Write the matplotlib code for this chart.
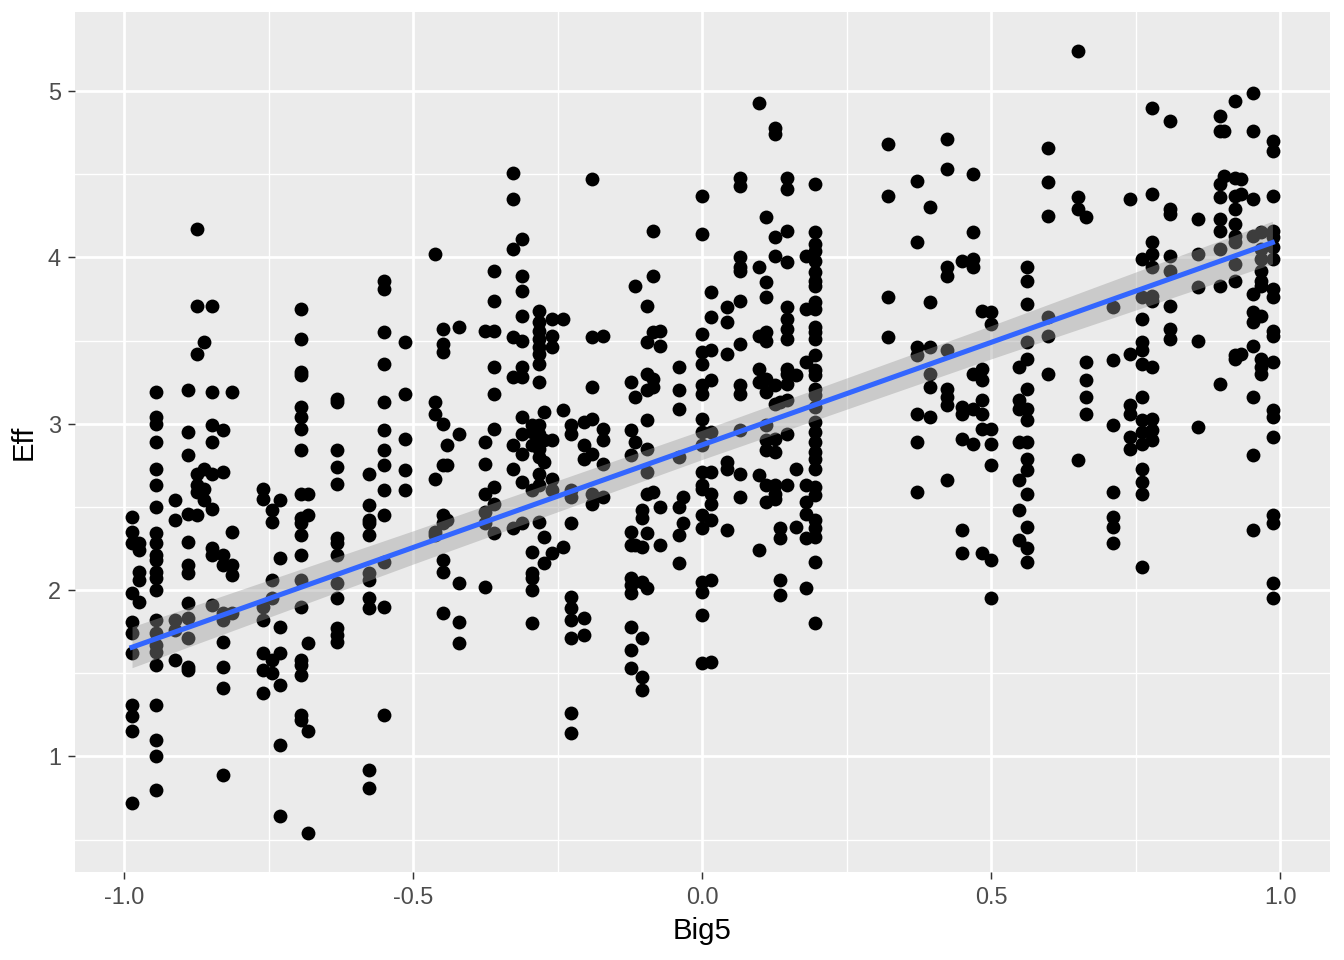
import numpy as np
import matplotlib
matplotlib.use('Agg')
import matplotlib.pyplot as plt
from matplotlib.ticker import MultipleLocator, FormatStrFormatter

plt.rcParams['font.family'] = ['Liberation Sans', 'DejaVu Sans']
plt.rcParams['axes.unicode_minus'] = False

# Big5 value of each column of points, and the Eff values in that column
col_x = [-0.986, -0.974, -0.944, -0.911, -0.889, -0.874, -0.861, -0.848, -0.828, -0.813,
         -0.760, -0.744, -0.731, -0.693, -0.681,
         -0.632, -0.577, -0.551, -0.514, -0.462, -0.448, -0.441, -0.421, -0.375, -0.360,
         -0.327, -0.311, -0.295, -0.283, -0.274, -0.260, -0.240, -0.227, -0.205, -0.191,
         -0.171, -0.123, -0.117, -0.105, -0.096, -0.085, -0.073, -0.040, -0.034,
         0.000, 0.015, 0.043, 0.065, 0.098, 0.110, 0.125, 0.134, 0.147, 0.162, 0.179, 0.195,
         0.321, 0.372, 0.394, 0.424, 0.449, 0.469, 0.484, 0.500, 0.548, 0.562, 0.598, 0.649,
         0.663, 0.711, 0.740, 0.760, 0.778, 0.809, 0.858, 0.896, 0.903, 0.922, 0.932, 0.953,
         0.967, 0.987]
col_y = [
    [2.44, 2.35, 2.28, 1.98, 1.81, 1.74, 1.62, 1.31, 1.24, 1.15, 0.72],
    [2.28, 2.24, 2.11, 2.06, 1.93],
    [3.19, 3.04, 3.00, 2.89, 2.73, 2.63, 2.50, 2.34, 2.28, 2.21, 2.18, 2.11, 2.07, 2.00,
     1.82, 1.74, 1.67, 1.63, 1.55, 1.31, 1.10, 1.00, 0.80],
    [2.54, 2.42, 1.82, 1.76, 1.58],
    [3.20, 2.95, 2.81, 2.46, 2.29, 2.15, 2.10, 1.92, 1.83, 1.71, 1.54, 1.52],
    [4.17, 3.71, 3.42, 2.70, 2.63, 2.59, 2.45],
    [3.49, 2.73, 2.61, 2.54],
    [3.71, 3.19, 2.99, 2.89, 2.70, 2.49, 2.25, 2.21, 1.91],
    [2.96, 2.71, 2.21, 2.15, 1.86, 1.82, 1.69, 1.54, 1.41, 0.89],
    [3.19, 2.35, 2.15, 2.09, 1.86],
    [2.61, 2.55, 1.90, 1.82, 1.62, 1.52, 1.38],
    [2.48, 2.41, 2.06, 1.95, 1.58, 1.50],
    [2.54, 2.19, 1.78, 1.62, 1.43, 1.07, 0.64],
    [3.69, 3.51, 3.31, 3.29, 3.10, 3.04, 2.97, 2.84, 2.58, 2.43, 2.40, 2.33, 2.21, 2.06,
     1.90, 1.58, 1.55, 1.49, 1.25, 1.22],
    [2.58, 2.45, 1.68, 1.15, 0.54],
    [3.15, 3.13, 2.84, 2.74, 2.64, 2.31, 2.28, 2.21, 2.04, 1.95, 1.77, 1.73, 1.69],
    [2.70, 2.51, 2.42, 2.40, 2.33, 2.10, 2.06, 1.95, 1.89, 0.92, 0.81],
    [3.86, 3.81, 3.55, 3.36, 3.13, 2.96, 2.84, 2.75, 2.60, 2.45, 2.17, 1.90, 1.25],
    [3.49, 3.18, 2.91, 2.72, 2.60],
    [4.02, 3.13, 3.06, 2.67, 2.35, 2.33],
    [3.57, 3.48, 3.43, 3.00, 2.75, 2.45, 2.40, 2.18, 2.11, 1.86],
    [2.87, 2.75, 2.42],
    [3.58, 2.94, 2.04, 1.81, 1.68],
    [3.56, 2.89, 2.76, 2.58, 2.47, 2.40, 2.02],
    [3.92, 3.74, 3.56, 3.34, 3.18, 2.97, 2.62, 2.52, 2.34],
    [4.51, 4.35, 4.05, 3.52, 3.28, 2.87, 2.73, 2.37],
    [4.11, 3.89, 3.80, 3.65, 3.50, 3.34, 3.28, 3.04, 2.94, 2.82, 2.65, 2.40],
    [2.99, 2.95, 2.87, 2.60, 2.23, 2.10, 2.07, 2.00, 1.80],
    [3.68, 3.61, 3.56, 3.51, 3.46, 3.42, 3.36, 3.25, 2.99, 2.94, 2.90, 2.85, 2.80, 2.70,
     2.63, 2.41],
    [3.07, 2.90, 2.77, 2.32, 2.16],
    [3.63, 3.53, 3.46, 2.90, 2.67, 2.60, 2.22],
    [3.63, 3.08, 2.26],
    [2.99, 2.94, 2.60, 2.56, 2.40, 1.96, 1.89, 1.82, 1.71, 1.26, 1.14],
    [3.01, 2.87, 2.79, 1.83, 1.73],
    [4.47, 3.52, 3.22, 3.03, 2.82, 2.58, 2.52],
    [3.53, 2.97, 2.90, 2.76, 2.56],
    [3.25, 2.96, 2.81, 2.35, 2.27, 2.07, 2.03, 1.98, 1.78, 1.64, 1.53],
    [3.83, 3.16, 2.89, 2.27],
    [2.48, 2.43, 2.26, 2.05, 1.71, 1.48, 1.40],
    [3.71, 3.49, 3.30, 3.20, 3.02, 2.85, 2.71, 2.58, 2.34, 2.01],
    [4.16, 3.89, 3.55, 3.27, 3.22, 2.59],
    [3.56, 3.47, 2.50, 2.27],
    [3.34, 3.20, 3.09, 2.80, 2.50, 2.33, 2.16],
    [2.56, 2.40],
    [4.37, 4.14, 3.54, 3.43, 3.36, 3.23, 3.18, 3.03, 2.95, 2.87, 2.71, 2.63, 2.61, 2.45,
     2.37, 2.05, 1.99, 1.85, 1.56],
    [3.79, 3.64, 3.44, 3.26, 2.95, 2.71, 2.58, 2.52, 2.42, 2.06, 1.57],
    [3.70, 3.61, 3.42, 2.77, 2.73, 2.36],
    [4.48, 4.43, 4.00, 3.94, 3.92, 3.74, 3.48, 3.23, 3.18, 2.96, 2.70, 2.56],
    [4.93, 3.94, 3.53, 3.33, 3.25, 2.69, 2.24],
    [4.24, 3.85, 3.76, 3.55, 3.50, 3.27, 3.19, 2.99, 2.90, 2.84, 2.63, 2.53],
    [4.78, 4.74, 4.12, 4.01, 3.23, 3.12, 2.91, 2.83, 2.63, 2.58, 2.55],
    [3.13, 2.37, 2.31, 2.06, 1.97],
    [4.48, 4.41, 4.16, 3.97, 3.70, 3.63, 3.57, 3.51, 3.33, 3.30, 3.24, 3.14, 2.94, 2.63],
    [3.29, 2.73, 2.38],
    [4.01, 3.69, 3.37, 2.63, 2.53, 2.46, 2.31, 2.01],
    [4.44, 4.15, 4.08, 4.04, 3.98, 3.91, 3.86, 3.83, 3.73, 3.69, 3.58, 3.55, 3.51, 3.41,
     3.32, 3.29, 3.21, 3.17, 3.10, 3.01, 2.95, 2.89, 2.83, 2.79, 2.73, 2.62, 2.57, 2.42,
     2.37, 2.32, 2.17, 1.80],
    [4.68, 4.37, 3.76, 3.52],
    [4.46, 4.09, 3.46, 3.41, 3.06, 2.89, 2.59],
    [4.30, 3.73, 3.46, 3.30, 3.22, 3.04],
    [4.71, 4.53, 3.94, 3.89, 3.44, 3.21, 3.16, 3.11, 2.66],
    [3.98, 3.10, 3.06, 2.91, 2.36, 2.22],
    [4.50, 4.15, 3.99, 3.94, 3.30, 3.09, 2.88],
    [3.68, 3.33, 3.26, 3.14, 3.06, 2.97, 2.22],
    [3.67, 3.60, 2.97, 2.88, 2.75, 2.18, 1.95],
    [3.34, 3.14, 3.09, 2.89, 2.66, 2.48, 2.30],
    [3.94, 3.86, 3.72, 3.49, 3.39, 3.21, 3.09, 3.02, 2.89, 2.79, 2.72, 2.58, 2.38, 2.25, 2.17],
    [4.66, 4.45, 4.25, 3.64, 3.53, 3.30],
    [5.24, 4.36, 4.29, 2.78],
    [4.24, 3.37, 3.26, 3.16, 3.06],
    [3.70, 3.38, 2.99, 2.59, 2.44, 2.38, 2.28],
    [4.35, 3.42, 3.11, 3.06, 2.92, 2.85],
    [3.99, 3.76, 3.63, 3.49, 3.44, 3.36, 3.16, 3.02, 2.95, 2.88, 2.73, 2.65, 2.58, 2.14],
    [4.90, 4.38, 4.09, 4.02, 3.94, 3.77, 3.74, 3.34, 3.03, 2.96, 2.90],
    [4.82, 4.29, 4.26, 4.01, 3.92, 3.71, 3.57, 3.51],
    [4.23, 4.02, 3.82, 3.50, 2.98],
    [4.85, 4.76, 4.44, 4.36, 4.23, 4.16, 4.05, 3.83, 3.24],
    [4.76, 4.49],
    [4.94, 4.48, 4.37, 4.29, 4.20, 4.13, 4.09, 3.96, 3.86, 3.41, 3.39],
    [4.47, 4.38, 3.42],
    [4.99, 4.76, 4.35, 4.13, 3.78, 3.67, 3.61, 3.47, 3.16, 2.81, 2.36],
    [4.15, 4.05, 3.99, 3.92, 3.86, 3.83, 3.65, 3.39, 3.34, 3.30],
    [4.70, 4.64, 4.37, 4.16, 4.12, 4.06, 3.99, 3.81, 3.76, 3.56, 3.53, 3.37, 3.08, 3.04,
     2.92, 2.45, 2.40, 2.04, 1.95],
]

# lm smooth: fitted line ends and the confidence band edges
smooth_x = [-0.986, 0.986]
smooth_y = [1.656, 4.089]
band_x = [-0.986, -0.5, 0.0, 0.5, 0.986]
band_lo = [1.533, 2.156, 2.785, 3.39, 3.961]
band_hi = [1.779, 2.356, 2.961, 3.59, 4.217]

x = np.concatenate([[cx] * len(cy) for cx, cy in zip(col_x, col_y)])
y = np.concatenate(col_y)

fig = plt.figure(figsize=(7, 5), dpi=192)
ax = fig.add_axes([0.0558, 0.0917, 0.9338, 0.8958])
ax.set_facecolor('#EBEBEB')
for sp in ax.spines.values():
    sp.set_visible(False)

ax.scatter(x, y, s=27, c='black', linewidths=0, zorder=3)
ax.fill_between(band_x, band_lo, band_hi, color='#999999', alpha=0.4, linewidth=0, zorder=4)
ax.plot(smooth_x, smooth_y, color='#3366FF', linewidth=1.9, zorder=5)

# ggplot style 5% expansion
xr = x.max() - x.min()
yr = y.max() - y.min()
ax.set_xlim(x.min() - 0.05 * xr, x.max() + 0.05 * xr)
ax.set_ylim(y.min() - 0.05 * yr, y.max() + 0.05 * yr)

ax.xaxis.set_major_locator(MultipleLocator(0.5))
ax.xaxis.set_minor_locator(MultipleLocator(0.25))
ax.yaxis.set_major_locator(MultipleLocator(1))
ax.yaxis.set_minor_locator(MultipleLocator(0.5))
ax.xaxis.set_major_formatter(FormatStrFormatter('%.1f'))
ax.grid(which='major', color='white', linewidth=1.05, zorder=0)
ax.grid(which='minor', color='white', linewidth=0.5, zorder=0)
ax.set_axisbelow(True)
ax.tick_params(which='major', length=2.75, width=0.55, color='#333333',
               labelcolor='#4D4D4D', labelsize=8.8, pad=2.5)
ax.tick_params(which='minor', length=0)

ax.set_xlabel('Big5', fontsize=11, color='black', labelpad=3)
ax.set_ylabel('Eff', fontsize=11, color='black', labelpad=4)

fig.savefig('out.png', dpi=192)
